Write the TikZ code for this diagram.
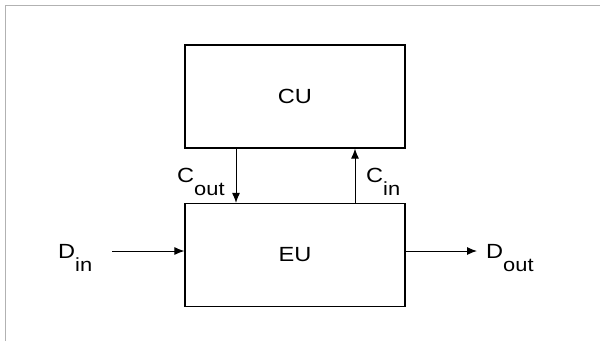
\documentclass[tikz,border=0pt]{standalone}
\usepackage{fontspec}
\setmainfont{Liberation Sans}[FakeStretch=1.15]
\usetikzlibrary{arrows.meta, positioning}

% signal name with a lowered index
\newcommand{\sig}[2]{#1\raisebox{-13pt}{\fontsize{19}{21}\selectfont #2}}

\begin{document}
\begin{tikzpicture}[x=1pt, y=-1pt,
  box/.style={draw, line width=1.2pt, minimum width=220pt, minimum height=103pt, inner sep=0pt, font=\fontsize{20.5}{23}\selectfont},
  lbl/.style={anchor=base west, inner sep=0pt, font=\fontsize{20.5}{23}\selectfont},
  arr/.style={-{Latex[length=10pt, width=8pt]}, line width=1pt},
  frame/.style={draw=black!30, line width=1.4pt}
]
\useasboundingbox (0,0) rectangle (600,341);
\draw[frame] (5.5,341) -- (5.5,5.5) -- (600,5.5);

\node[box] (cu) at (295,96.5) {CU};
\node[box] (eu) at (295,255) {EU};

\node[lbl] (cout) at (177,182) {\sig{C}{out}};
\node[lbl] (cin)  at (366,182) {\sig{C}{in}};
\node[lbl] (din)  at (58,258)  {\sig{D}{in}};
\node[lbl] (dout) at (486,258) {\sig{D}{out}};

\coordinate (coutx) at (236,0);
\coordinate (cinx)  at (355,0);
\coordinate (dinstart) at (112,251);
\coordinate (doutend)  at (477,251);

\draw[arr] (cu.south -| coutx) -- (eu.north -| coutx);
\draw[arr] (eu.north -| cinx) -- (cu.south -| cinx);
\draw[arr] (dinstart) -- (eu.west |- dinstart);
\draw[arr] (eu.east |- doutend) -- (doutend);
\end{tikzpicture}
\end{document}
